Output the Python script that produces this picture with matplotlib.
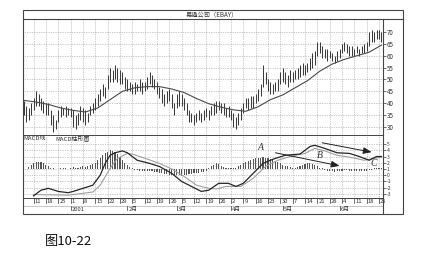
import matplotlib.pyplot as plt
import pandas as pd
from matplotlib.lines import Line2D
from matplotlib.patches import Rectangle

plt.rcParams['font.family'] = ['Noto Sans CJK SC', 'DejaVu Sans']
plt.rcParams['axes.unicode_minus'] = False

# ── data ──────────────────────────────────────────────────────────────────
dates = pd.bdate_range("2000-12-05", "2001-06-26")

highs = [41, 39, 38, 40,
         42, 45, 44, 42, 41,   40, 40, 37, 35, 33,   37, 39, 38, 39, 38,
         38, 37, 35, 36, 39,   38, 37, 36, 39, 40,   42, 44, 46, 48, 47,
         52, 55, 54, 56, 55,   54, 53, 51, 50, 49,   48, 49, 48, 50, 49,
         49, 51, 53, 52, 50,   49, 47, 46, 44, 45,   46, 44, 40, 44, 45,
         44, 42, 40, 37, 36,   35, 36, 37, 36, 37,   38, 37, 39, 40, 41,
         41, 40, 40, 38, 39,   37, 36, 34, 36, 38,   40, 42, 42, 43, 43,
         44, 46, 48, 56, 53,   50, 49, 48, 49, 50,   53, 55, 53, 52, 54,
         53, 54, 55, 56, 57,   56, 57, 59, 61, 62,   66, 66, 64, 63, 63,
         62, 61, 60, 62, 63,   65, 66, 65, 64, 64,   63, 64, 63, 64, 65,
         66, 70, 71, 70, 71,   71, 70]
lows = [35, 32, 33, 35,
        37, 39, 39, 37, 36,   35, 35, 31, 28, 29,   32, 34, 35, 34, 35,
        34, 30, 29, 31, 33,   32, 31, 32, 35, 36,   37, 39, 41, 43, 42,
        46, 49, 49, 50, 49,   48, 48, 46, 45, 45,   44, 44, 45, 45, 44,
        45, 46, 48, 47, 46,   44, 42, 40, 39, 40,   41, 38, 35, 38, 39,
        39, 37, 35, 32, 32,   31, 32, 33, 32, 33,   34, 33, 35, 35, 36,
        37, 36, 35, 34, 34,   33, 30, 29, 31, 33,   36, 38, 37, 38, 38,
        40, 41, 43, 47, 48,   45, 44, 44, 45, 45,   48, 49, 48, 47, 49,
        49, 50, 50, 51, 52,   52, 53, 54, 55, 56,   60, 61, 59, 59, 58,
        59, 58, 57, 58, 59,   61, 62, 61, 60, 60,   60, 61, 60, 61, 61,
        62, 64, 66, 66, 67,   67, 66]

# moving average, sampled every 5th trading day
ma_values = [41.2, 40.5, 39.5, 38.0, 37.0, 36.3, 38.0, 41.5, 45.0, 46.5,
             47.0, 47.0, 46.0, 44.5, 42.0, 39.8, 38.3, 37.2, 36.6, 38.5,
             41.5, 43.5, 46.5, 49.5, 53.5, 56.5, 58.5, 60.0, 61.5, 64.5]

macd_dates = ["2000-12-11", "2000-12-14", "2000-12-19", "2000-12-25", "2000-12-29",
              "2001-01-02", "2001-01-08", "2001-01-12", "2001-01-17", "2001-01-19",
              "2001-01-23", "2001-01-25", "2001-01-30", "2001-02-01", "2001-02-07",
              "2001-02-14", "2001-02-20", "2001-02-27", "2001-03-05", "2001-03-09",
              "2001-03-15", "2001-03-20", "2001-03-26", "2001-03-30", "2001-04-04",
              "2001-04-09", "2001-04-13", "2001-04-19", "2001-04-24", "2001-04-26",
              "2001-05-02", "2001-05-10", "2001-05-16", "2001-05-18", "2001-05-24",
              "2001-05-31", "2001-06-07", "2001-06-13", "2001-06-19", "2001-06-22",
              "2001-06-26"]
macd_line = [-3.3, -2.4, -2.1, -2.6, -2.8, -2.6, -2.1, -1.6, 0.0, 1.9,
             3.2, 3.6, 3.9, 3.6, 2.4, 1.9, 1.4, 0.3, -1.0, -1.8,
             -2.6, -2.4, -1.3, -1.3, -1.8, -1.3, 0.3, 1.9, 2.4, 2.7,
             3.2, 3.4, 4.6, 4.8, 4.3, 3.6, 3.5, 3.0, 2.4, 3.0,
             3.0]

signal_dates = ["2000-12-11", "2000-12-29", "2001-01-12", "2001-01-17", "2001-01-23",
                "2001-01-26", "2001-02-01", "2001-02-05", "2001-02-13", "2001-02-20",
                "2001-02-27", "2001-03-06", "2001-03-13", "2001-03-20", "2001-03-23",
                "2001-03-29", "2001-04-06", "2001-04-13", "2001-04-20", "2001-04-27",
                "2001-05-04", "2001-05-14", "2001-05-18", "2001-05-24", "2001-05-31",
                "2001-06-07", "2001-06-15", "2001-06-26"]
signal_line = [-3.1, -3.2, -2.7, -1.6, 1.1, 2.7, 3.5, 3.4, 2.6, 1.9,
               1.0, -0.2, -1.6, -2.1, -2.2, -1.8, -1.8, -0.5, 1.4, 2.4,
               3.0, 3.5, 4.3, 3.9, 3.2, 2.9, 2.4, 2.9]

hist_base = 1.0
hist = [0, 0, 0.3, 0.7,
        1.0, 1.2, 1.2, 1.1, 0.9,   0.6, 0.4, 0.2, 0.1, 0.05,   0, 0.1, 0.2, 0.1, 0,
        0.15, 0.3, 0.2, 0.1, 0.3,  0.4, 0.3, 0.5, 0.6, 0.8,    1.0, 1.4, 1.8, 2.2, 2.5,
        2.8, 3.0, 2.9, 2.7, 2.4,   2.0, 1.5, 1.0, 0.6, 0.3,    0.1, -0.1, -0.2, -0.3, -0.3,
        -0.3, -0.4, -0.3, -0.4, -0.5,  -0.5, -0.6, -0.7, -0.8, -0.8,  -0.9, -1.0, -1.0, -0.9, -1.0,
        -1.1, -1.0, -0.9, -0.8, -0.8,  -0.7, -0.6, -0.6, -0.5, -0.5,  -0.4, 0.2, 0.4, 0.7, 0.9,
        0.8, 0.5, 0.3, 0.2, 0.1,   0.1, 0.1, 0.2, 0.4, 0.6,    0.9, 1.1, 1.3, 1.5, 1.6,
        1.7, 1.8, 1.8, 1.9, 1.8,   1.7, 1.6, 1.5, 1.3, 1.1,    0.9, 0.7, 0.5, 0.4, 0.3,
        0.2, 0.2, 0.3, 0.4, 0.6,   0.8, 0.9, 1.0, 0.8, 0.6,    0.4, 0.2, 0.1, -0.1, -0.3,
        -0.4, -0.4, -0.5, -0.4, -0.3,  -0.3, -0.2, -0.2, -0.3, -0.3,  -0.4, -0.4, -0.3, -0.4, -0.3,
        -0.3, -0.2, -0.1, 0.1, 0.2,    0.2, 0.1]

price_ticks = [30, 35, 40, 45, 50, 55, 60, 65, 70]
macd_ticks = [-3, -2, -1, 0, 1, 2, 3, 4, 5]
month_labels = {1: "2001", 2: "2月", 3: "3月", 4: "4月", 5: "5月", 6: "6月"}
title = "易趣公司（EBAY）"
legend_text = ["MACD线", "MACD柱形图"]
fig_label = "图10-22"

# ── layout (pixels of the 424x254 canvas) ─────────────────────────────────
W, H = 424, 254
LEFT, RIGHT, FRAME_R = 22.5, 382.7, 402.7
TOP, TITLE_B, PRICE_B, MACD_B, BOTTOM = 10, 19, 135, 198.3, 213.5


def fx(x):
    return x / W


def fy(y):
    return 1 - y / H


def panel(top, bottom):
    return fig.add_axes([fx(LEFT), fy(bottom), fx(RIGHT) - fx(LEFT), (bottom - top) / H])


x = list(range(len(dates)))
pos = pd.Series(x, index=dates)
mondays = [i for i, d in enumerate(dates) if d.weekday() == 0]
month_starts = [i for i in range(1, len(dates)) if dates[i].month != dates[i - 1].month]
xlim = (-0.5, len(dates) - 0.5)
grid_kw = dict(color="#9a9a9a", lw=0.5, ls=(0, (1, 1.5)))
axis_col = "#444444"

fig = plt.figure(figsize=(W / 100, H / 100), dpi=100)


def style(ax, ylim, ticks, labelsize):
    ax.set_xlim(*xlim)
    ax.set_ylim(*ylim)
    ax.set_xticks(mondays)
    ax.set_yticks(ticks)
    ax.grid(True, **grid_kw)
    ax.set_axisbelow(True)
    ax.tick_params(axis="x", length=0, labelbottom=False)
    ax.tick_params(axis="y", left=False, labelleft=False, right=True, labelright=True,
                   direction="out", length=2, width=0.5, pad=1, labelsize=labelsize,
                   colors="#333333")
    for s in ax.spines.values():
        s.set_color(axis_col)
        s.set_linewidth(0.7)


# price panel
ax_p = panel(TITLE_B, PRICE_B)
style(ax_p, (26.6, 75.5), price_ticks, 4.5)
ax_p.vlines(x, lows, highs, color="#3c3c3c", lw=0.75)
ax_p.plot(x[::5], ma_values, color="#4a4a4a", lw=0.8)

# MACD panel
ax_m = panel(PRICE_B, MACD_B)
style(ax_m, (-3.7, 6.45), macd_ticks, 3.6)
ax_m.bar(x, hist, bottom=hist_base, width=0.45, color="#555555")
ax_m.plot(pos[pd.to_datetime(signal_dates)].values, signal_line, color="#a0a0a0", lw=0.8)
ax_m.plot(pos[pd.to_datetime(macd_dates)].values, macd_line, color="#262626", lw=0.9)
ax_m.text(0.003, 0.985, legend_text[0], transform=ax_m.transAxes, fontsize=4.3,
          va="top", ha="left", color="#333333")
ax_m.text(0.09, 0.985, legend_text[1], transform=ax_m.transAxes, fontsize=4.3,
          va="top", ha="left", color="#333333")

ann = dict(fontsize=7, family="Liberation Serif", style="italic", color="#333333",
           ha="center", va="center")
ax_m.text(pos[pd.Timestamp("2001-04-18")], 4.4, "A", **ann)
ax_m.text(pos[pd.Timestamp("2001-05-22")], 3.2, "B", **ann)
ax_m.text(pos[pd.Timestamp("2001-06-21")], 1.9, "C", **ann)
arrow = dict(arrowstyle="-|>,head_length=0.5,head_width=0.2", color="#222222", lw=0.7,
             shrinkA=0, shrinkB=0)
ax_m.annotate("", xy=(pos[pd.Timestamp("2001-06-01")], 1.5),
              xytext=(pos[pd.Timestamp("2001-04-26")], 3.6), arrowprops=arrow)
ax_m.annotate("", xy=(pos[pd.Timestamp("2001-06-20")], 3.7),
              xytext=(pos[pd.Timestamp("2001-05-23")], 5.2), arrowprops=arrow)

# date band
ax_d = fig.add_axes([fx(LEFT), fy(BOTTOM), fx(RIGHT) - fx(LEFT), (BOTTOM - MACD_B) / H])
ax_d.set_xlim(*xlim)
ax_d.set_ylim(0, 1)
ax_d.axis("off")
for i in mondays:
    ax_d.plot([i, i], [1, 0.72], color="#333333", lw=0.5)
    ax_d.text(i + 0.4, 0.93, str(dates[i].day), fontsize=4.2, ha="left", va="top",
              color="#333333")
ax_d.axhline(0.5, color="#b0b0b0", lw=0.5)
for i in month_starts:
    ax_d.plot([i, i], [0.5, 0.25], color="#333333", lw=0.5)
    ax_d.text(i + 0.4, 0.42, month_labels[dates[i].month], fontsize=4.2, ha="left",
              va="top", color="#333333")

# outer frame, title band, right axis line
fig.add_artist(Rectangle((fx(LEFT), fy(BOTTOM)), fx(FRAME_R) - fx(LEFT), (BOTTOM - TOP) / H,
                         transform=fig.transFigure, fill=False, ec=axis_col, lw=0.8))
fig.add_artist(Line2D([fx(LEFT), fx(FRAME_R)], [fy(TITLE_B)] * 2,
                      transform=fig.transFigure, color=axis_col, lw=0.8))
fig.add_artist(Line2D([fx(RIGHT)] * 2, [fy(TITLE_B), fy(BOTTOM)],
                      transform=fig.transFigure, color=axis_col, lw=0.8))
fig.text(fx(212), fy(14.5), title, fontsize=4.5, ha="center", va="center", color="#333333")
fig.text(fx(45), fy(241.5), fig_label, fontsize=9.5, ha="left", va="center", color="#111111")

fig.savefig("out.png", dpi=100)
